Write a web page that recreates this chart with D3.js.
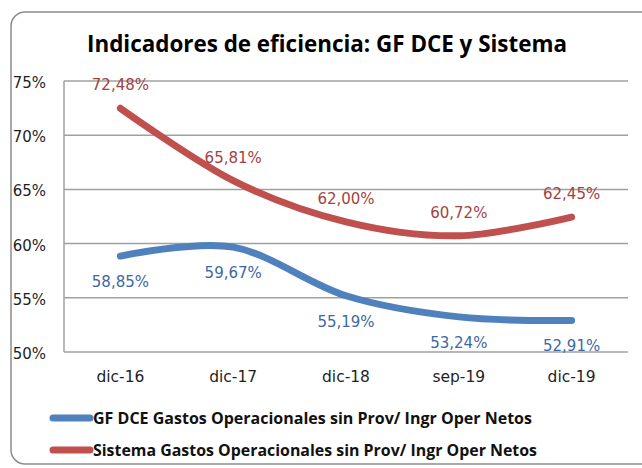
<!DOCTYPE html>
<html lang="es">
<head>
<meta charset="UTF-8">
<title>Indicadores de eficiencia</title>
<script src="https://d3js.org/d3.v7.min.js"></script>
<style>
  body { margin: 0; background: #fff; }
  svg { display: block; }
</style>
</head>
<body>
<svg width="642" height="468"></svg>
<script>
// chart data
const categories = ["dic-16", "dic-17", "dic-18", "sep-19", "dic-19"];
const gfDce = [58.85, 59.67, 55.19, 53.24, 52.91];
const sistema = [72.48, 65.81, 62.00, 60.72, 62.45];
const yTicks = [50, 55, 60, 65, 70, 75];
const seriesNames = [
  "GF DCE Gastos Operacionales sin Prov/ Ingr Oper Netos",
  "Sistema Gastos Operacionales sin Prov/ Ingr Oper Netos"
];

const svg = d3.select("svg");
const margin = { top: 81, right: 14, bottom: 116, left: 64 };
const plotRight = 628, plotBottom = 352;

// outer chart frame (runs off the right side)
svg.append("rect")
  .attr("x", 11).attr("y", 12)
  .attr("width", 680).attr("height", 452)
  .attr("rx", 14)
  .attr("fill", "#fff")
  .attr("stroke", "#8c8c8c")
  .attr("stroke-width", 1.5);

// title
svg.append("text")
  .attr("x", 327).attr("y", 52)
  .attr("text-anchor", "middle")
  .attr("font-family", "'Open Sans', sans-serif")
  .attr("font-weight", "bold")
  .attr("font-size", 23)
  .attr("textLength", 480)
  .attr("lengthAdjust", "spacingAndGlyphs")
  .attr("fill", "#000")
  .text("Indicadores de eficiencia: GF DCE y Sistema");

const x = d3.scalePoint()
  .domain(categories)
  .range([margin.left, plotRight])
  .padding(0.5);

const y = d3.scaleLinear()
  .domain([50, 75])
  .range([plotBottom, margin.top]);

// gridlines
svg.append("g")
  .selectAll("line")
  .data(yTicks)
  .join("line")
  .attr("x1", margin.left).attr("x2", plotRight)
  .attr("y1", d => y(d)).attr("y2", d => y(d))
  .attr("stroke", "#a0a0a0")
  .attr("stroke-width", 1.5);

// left axis line
svg.append("line")
  .attr("x1", margin.left).attr("x2", margin.left)
  .attr("y1", y(75)).attr("y2", y(50))
  .attr("stroke", "#a0a0a0")
  .attr("stroke-width", 1.5);

// y labels
svg.append("g")
  .selectAll("text")
  .data(yTicks)
  .join("text")
  .attr("x", 46)
  .attr("y", d => y(d) + 7)
  .attr("text-anchor", "end")
  .attr("font-family", "'DejaVu Sans', sans-serif")
  .attr("font-size", 15)
  .attr("fill", "#1f1f1f")
  .text(d => d + "%");

// x labels
svg.append("g")
  .selectAll("text")
  .data(categories)
  .join("text")
  .attr("x", d => x(d))
  .attr("y", 382)
  .attr("text-anchor", "middle")
  .attr("font-family", "'DejaVu Sans', sans-serif")
  .attr("font-size", 15.5)
  .attr("fill", "#1f1f1f")
  .text(d => d);

const line = d3.line()
  .x((d, i) => x(categories[i]))
  .y(d => y(d))
  .curve(d3.curveCardinal.tension(0));

const fmt = v => d3.format(".2f")(v).replace(".", ",") + "%";

const series = [
  { values: gfDce, color: "#4f81bd", text: "#3d68a3", dy: 31 },
  { values: sistema, color: "#c0504d", text: "#a3423f", dy: -18 }
];

series.forEach(s => {
  svg.append("path")
    .datum(s.values)
    .attr("d", line)
    .attr("fill", "none")
    .attr("stroke", s.color)
    .attr("stroke-width", 7)
    .attr("stroke-linecap", "round")
    .attr("stroke-linejoin", "round");

  svg.append("g")
    .selectAll("text")
    .data(s.values)
    .join("text")
    .attr("x", (d, i) => x(categories[i]))
    .attr("y", d => y(d) + s.dy)
    .attr("text-anchor", "middle")
    .attr("font-family", "'DejaVu Sans', sans-serif")
    .attr("font-size", 15)
    .attr("fill", s.text)
    .text(fmt);
});

// legend
const legendW = [439, 444];
const legend = svg.append("g")
  .selectAll("g")
  .data(series)
  .join("g")
  .attr("transform", (d, i) => `translate(50, ${418 + i * 32})`);

legend.append("line")
  .attr("x1", 3).attr("x2", 40)
  .attr("y1", 0).attr("y2", 0)
  .attr("stroke", d => d.color)
  .attr("stroke-width", 7)
  .attr("stroke-linecap", "round");

legend.append("text")
  .attr("x", 43)
  .attr("y", 6)
  .attr("font-family", "'Open Sans', sans-serif")
  .attr("font-weight", "bold")
  .attr("font-size", 16)
  .attr("textLength", (d, i) => legendW[i])
  .attr("lengthAdjust", "spacingAndGlyphs")
  .attr("fill", "#111")
  .text((d, i) => seriesNames[i]);
</script>
</body>
</html>
